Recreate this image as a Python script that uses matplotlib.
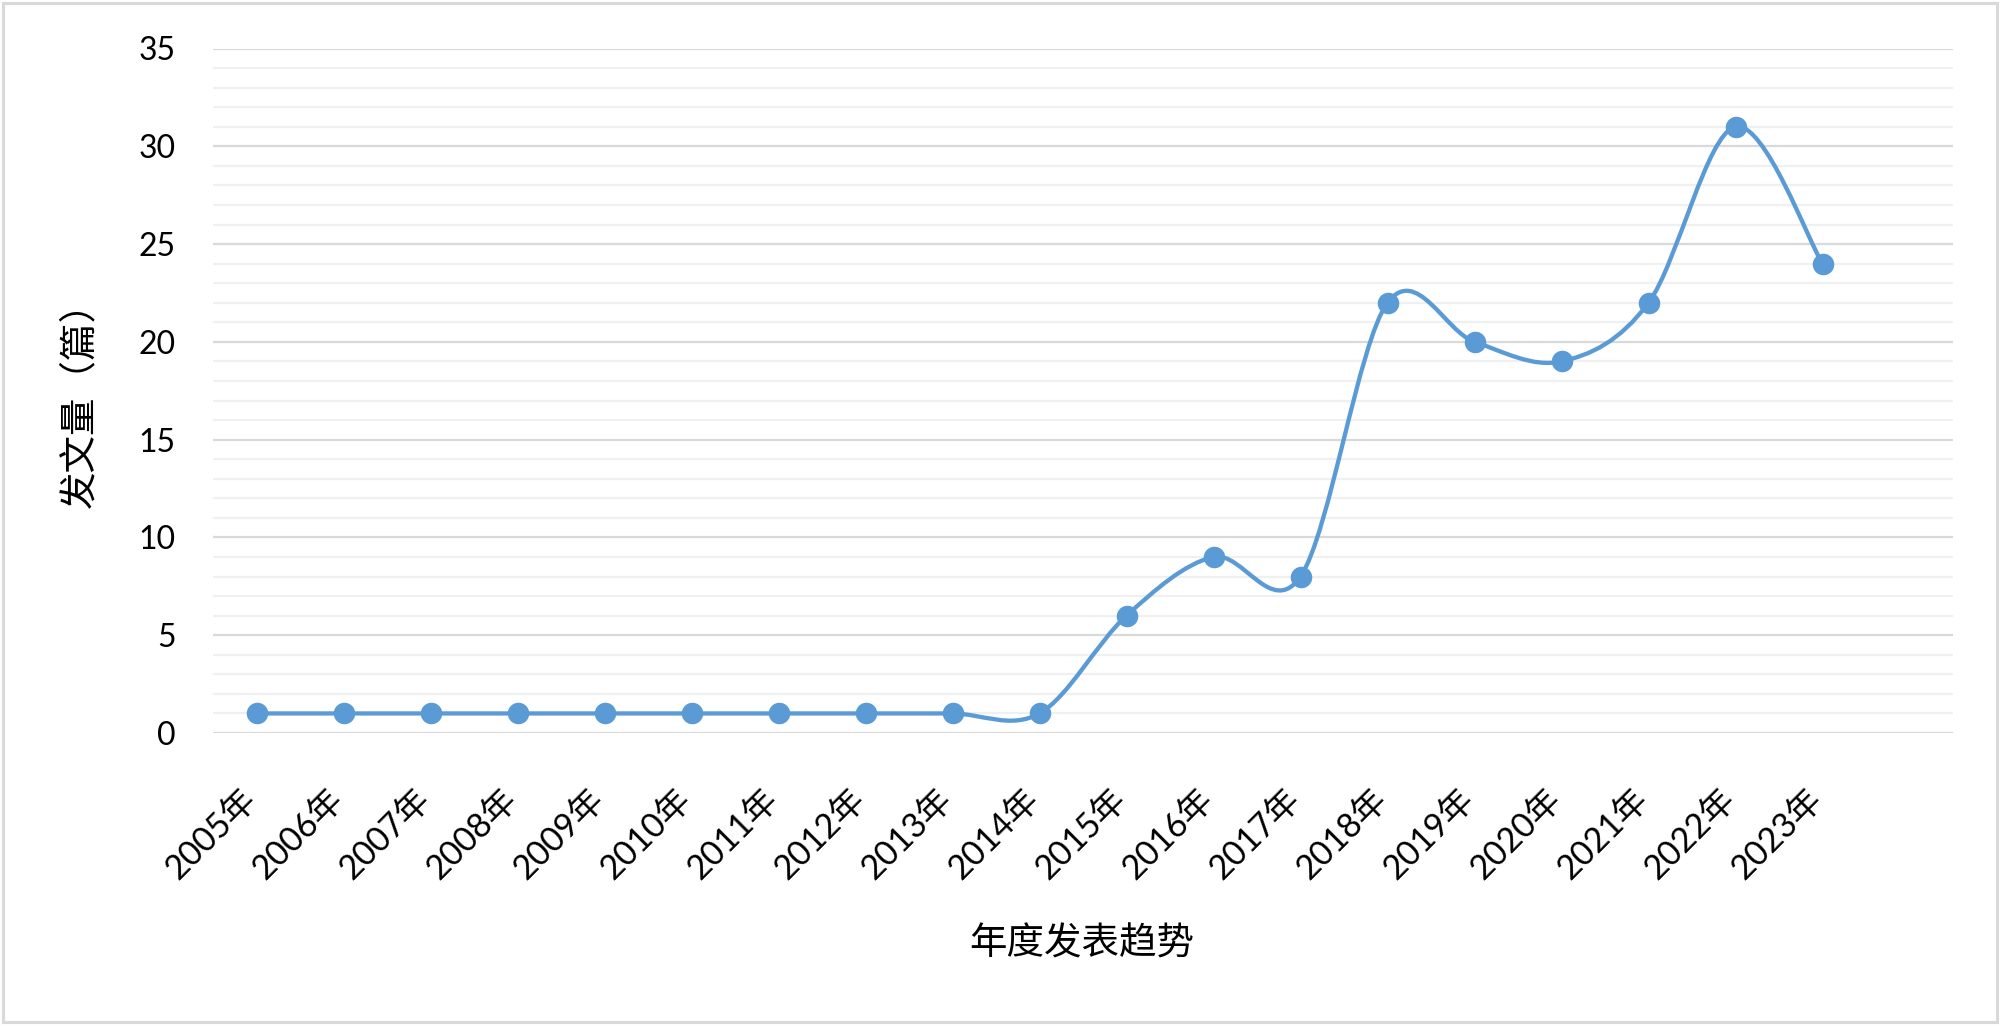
import matplotlib
matplotlib.use('Agg')
import matplotlib.pyplot as plt
from matplotlib.path import Path
from matplotlib.patches import PathPatch, Rectangle
from matplotlib.ticker import MultipleLocator
import matplotlib.transforms as mtransforms
import numpy as np

plt.rcParams['font.family'] = ['Lato', 'Noto Sans CJK SC', 'DejaVu Sans']

years = ["2005年", "2006年", "2007年", "2008年", "2009年", "2010年", "2011年",
         "2012年", "2013年", "2014年", "2015年", "2016年", "2017年", "2018年",
         "2019年", "2020年", "2021年", "2022年", "2023年"]
counts = [1, 1, 1, 1, 1, 1, 1, 1, 1, 1, 6, 9, 8, 22, 20, 19, 22, 31, 24]

x_label = "年度发表趋势"
y_label = "发文量（篇）"

LINE = '#5B9BD5'
W, H = 2000, 1025
fig = plt.figure(figsize=(W / 100, H / 100), dpi=100)

# chart area border
fig.patches.append(Rectangle((0.0015, 0.003), 0.997, 0.994, transform=fig.transFigure,
                             fill=False, edgecolor='#D9D9D9', linewidth=2.2))

left, right, top, bottom = 213, 1953, 48.5, 733
ax = fig.add_axes([left / W, (H - bottom) / H, (right - left) / W, (bottom - top) / H])

xs = np.arange(len(counts), dtype=float)
ys = np.array(counts, dtype=float)

# Excel-style smoothed line (cubic Bezier, Catmull-Rom control points)
verts = [(xs[0], ys[0])]
codes = [Path.MOVETO]
n = len(xs)
for i in range(n - 1):
    p0 = np.array([xs[max(i - 1, 0)], ys[max(i - 1, 0)]])
    p1 = np.array([xs[i], ys[i]])
    p2 = np.array([xs[i + 1], ys[i + 1]])
    p3 = np.array([xs[min(i + 2, n - 1)], ys[min(i + 2, n - 1)]])
    c1 = p1 + (p2 - p0) / 6.0
    c2 = p2 - (p3 - p1) / 6.0
    verts += [tuple(c1), tuple(c2), tuple(p2)]
    codes += [Path.CURVE4] * 3
ax.add_patch(PathPatch(Path(verts, codes), fill=False, edgecolor=LINE,
                       linewidth=3.1, zorder=3, capstyle='round', joinstyle='round'))
ax.plot(xs, ys, linestyle='none', marker='o', markersize=15.5, color=LINE,
        markeredgewidth=0, zorder=4)

ax.set_xlim(-0.5, 19.5)
ax.set_ylim(0, 35)
ax.yaxis.set_major_locator(MultipleLocator(5))
ax.yaxis.set_minor_locator(MultipleLocator(1))
ax.set_xticks(xs)
ax.set_xticklabels(years, rotation=45, ha='right', va='top', fontsize=24.5)
ax.tick_params(axis='x', length=0, pad=36)
ax.tick_params(axis='y', which='both', length=0, pad=27, labelsize=23)

ax.grid(which='major', axis='y', color='#D9D9D9', linewidth=1.6, zorder=0)
ax.grid(which='minor', axis='y', color='#F0F0F0', linewidth=1.6, zorder=0)
ax.grid(which='both', axis='x', visible=False)
ax.set_axisbelow(True)
for s in ax.spines.values():
    s.set_visible(False)

offset = mtransforms.ScaledTranslation(6 / 100, 0, fig.dpi_scale_trans)
for lab in ax.get_xticklabels():
    lab.set_transform(lab.get_transform() + offset)

fig.text(1082 / W, 1 - 944 / H, x_label, ha='center', va='center', fontsize=27,
         family=['Noto Sans CJK SC'])
fig.text(80 / W, 1 - 396 / H, y_label, ha='center', va='center', fontsize=27,
         rotation=90, family=['Noto Sans CJK SC'])

fig.savefig('out.png', dpi=100)
